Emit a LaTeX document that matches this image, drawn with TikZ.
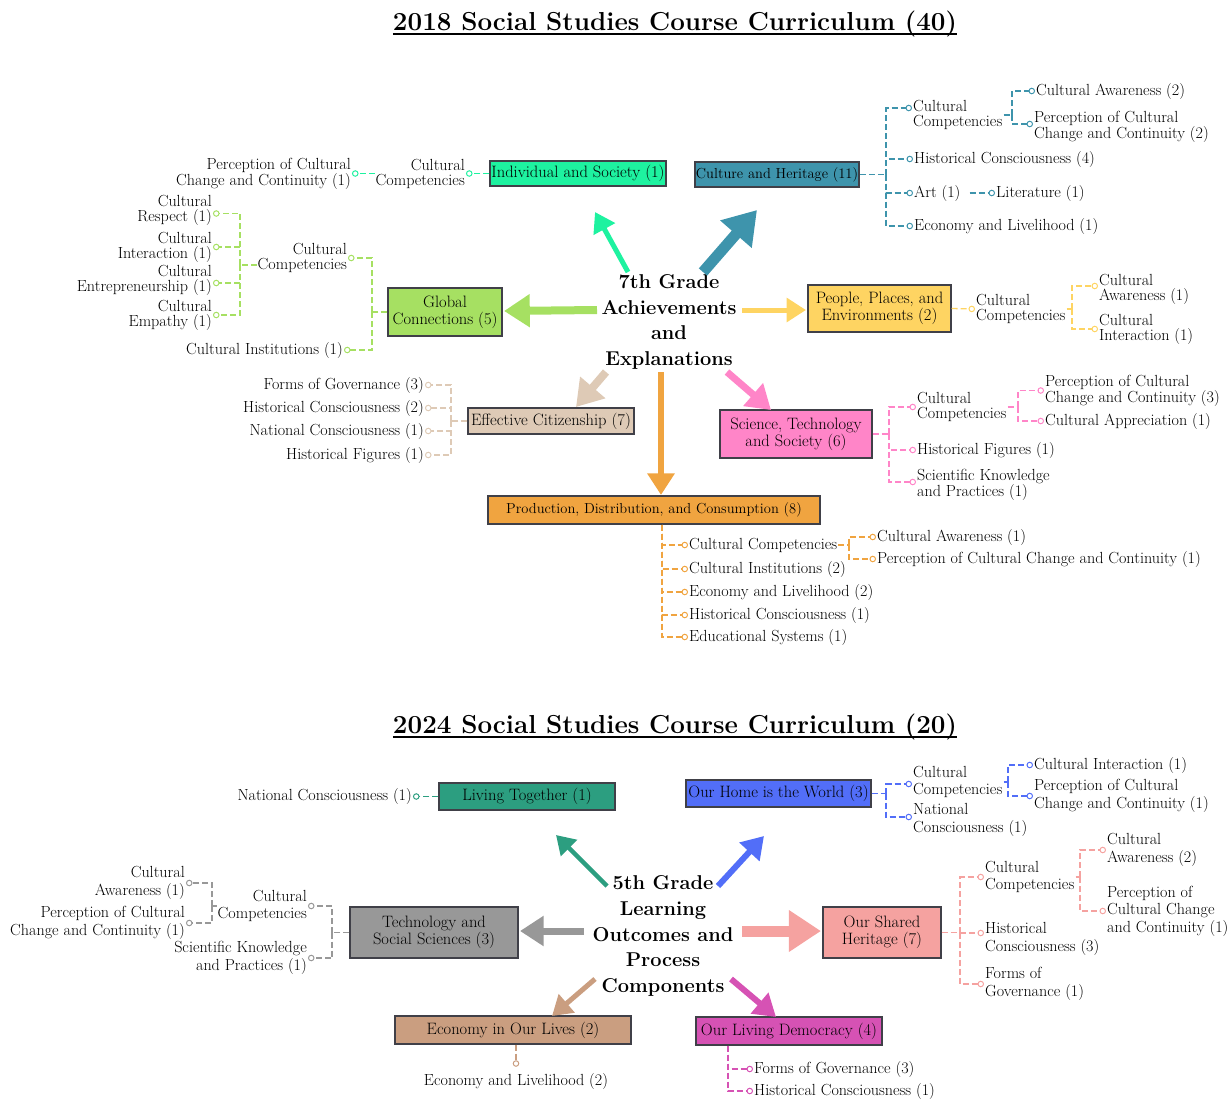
\documentclass[tikz,border=0pt]{standalone}
\usepackage{tikz}
\usetikzlibrary{arrows.meta}
\definecolor{indsoc}{RGB}{30,242,160}
\definecolor{culher}{RGB}{62,148,172}
\definecolor{globcon}{RGB}{166,224,98}
\definecolor{peoplace}{RGB}{254,212,98}
\definecolor{effcit}{RGB}{222,202,182}
\definecolor{scitech}{RGB}{255,133,200}
\definecolor{prodcon}{RGB}{240,164,64}
\definecolor{livtog}{RGB}{44,158,128}
\definecolor{ourhome}{RGB}{82,110,248}
\definecolor{techsoc}{RGB}{152,152,152}
\definecolor{shared}{RGB}{245,162,160}
\definecolor{economy}{RGB}{202,158,128}
\definecolor{democracy}{RGB}{214,82,180}
\definecolor{boxline}{RGB}{64,64,72}

\begin{document}
\begin{tikzpicture}[x=1pt,y=-1pt,
    box/.style={draw=boxline, line width=1.4pt, fill=#1, inner sep=1pt, align=center, font=\fontsize{16.5}{17}\selectfont},
    leaf/.style={inner sep=1pt, align=left, anchor=west, font=\fontsize{16.1}{15}\selectfont},
    leftleaf/.style={leaf, align=right, anchor=east},
    hub/.style={align=center, font=\fontsize{20}{25.7}\selectfont\bfseries},
    heading/.style={anchor=base, inner sep=0pt, font=\fontsize{26}{30}\selectfont\bfseries},
    trunk/.style={draw=#1, line width=1.3pt, dash pattern=on 6pt off 3pt},
    twig/.style={trunk=#1, -{Circle[open,length=6.5pt,width=6.5pt,line width=1pt]}},
    fat/.style 2 args={draw=#1, line width=#2, -{Triangle[length=9pt 2.1,width=10pt 2.7]}}]
\useasboundingbox (0,0) rectangle (1232,1101);

% ---------------- 2018 ----------------
\node[heading] (title18) at (675,30) {2018 Social Studies Course Curriculum (40)};
\draw[line width=1.3pt] ([yshift=-4pt]title18.base west) -- ([yshift=-4pt]title18.base east);
\node[hub] (grade7) at (669,322) {7th Grade\\Achievements\\and\\Explanations};

\node[box=indsoc, minimum width=176pt, minimum height=25pt] (indiv) at (578,173.5) {Individual and Society (1)};
\node[box=culher, minimum width=160pt, minimum height=25pt, font=\fontsize{14.5}{15}\selectfont] (heritage) at (777,174.5) {Culture and Heritage (11)};
\node[box=globcon, minimum width=114pt, minimum height=48pt] (global) at (445,312) {Global\\Connections (5)};
\node[box=peoplace, minimum width=143pt, minimum height=47pt] (people) at (879.5,308.5) {People, Places, and\\Environments (2)};
\node[box=effcit, minimum width=166pt, minimum height=26pt] (citizen) at (551,421) {Effective Citizenship (7)};
\node[box=scitech, minimum width=152pt, minimum height=48pt] (science) at (796,434) {Science, Technology\\and Society (6)};
\node[box=prodcon, minimum width=332pt, minimum height=28pt, font=\fontsize{14.5}{15}\selectfont] (product) at (654,510) {Production, Distribution, and Consumption (8)};

\draw[fat={indsoc}{5pt}] ([shift={(-41,-50)}]grade7.center) -- ([shift={(17,38.5)}]indiv.center);
\draw[fat={culher}{11pt}] ([shift={(34,-50)}]grade7.center) -- ([shift={(-20,35.5)}]heritage.center);
\draw[fat={globcon}{8pt}] ([shift={(-72,-12)}]grade7.center) -- ([shift={(59,-1)}]global.center);
\draw[fat={peoplace}{5pt}] ([shift={(73,-12)}]grade7.center) -- ([shift={(-73.5,1.5)}]people.center);
\draw[fat={effcit}{8pt}] ([shift={(-63,50)}]grade7.center) -- ([shift={(25,-14)}]citizen.center);
\draw[fat={prodcon}{6pt}] ([shift={(-8,50)}]grade7.center) -- ([shift={(7,-15)}]product.center);
\draw[fat={scitech}{7pt}] ([shift={(58,50)}]grade7.center) -- ([shift={(-25,-24)}]science.center);

% individual and society
\node[leftleaf] (indcc) at (466,173.5) {Cultural\\Competencies};
\node[leftleaf] (indpc) at (352,173.5) {Perception of Cultural\\Change and Continuity (1)};
\draw[twig=indsoc] (indiv.west) -- (indcc.east);
\draw[twig=indsoc] (indcc.west) -- (indpc.east);

% culture and heritage
\coordinate (herj) at (886,174.5);
\node[leaf] (hercc) at (912,115) {Cultural\\Competencies};
\node[leaf] (herhc) at (913,159) {Historical Consciousness (4)};
\node[leaf] (herart) at (913,193) {Art (1)};
\node[leaf] (herlit) at (995,193) {Literature (1)};
\node[leaf] (herel) at (913,226) {Economy and Livelihood (1)};
\draw[trunk=culher] (heritage.east) -- (herj);
\draw[twig=culher] (herj) |- ([yshift=7pt]hercc.west);
\foreach \n in {herhc,herart,herel}
    \draw[twig=culher] (herj) |- (\n.west);
\draw[twig=culher] ([xshift=8pt]herart.east) -- (herlit.west);
\coordinate (herccj) at (1012,115);
\node[leaf] (herca) at (1035,91) {Cultural Awareness (2)};
\node[leaf] (herpc) at (1033,127) {Perception of Cultural\\Change and Continuity (2)};
\draw[trunk=culher] (hercc.east) -- (herccj);
\draw[twig=culher] (herccj) |- (herca.west);
\draw[twig=culher] (herccj) |- ([yshift=3pt]herpc.west);

% global connections
\coordinate (globj) at (372,312);
\node[leftleaf] (globcc) at (348,258) {Cultural\\Competencies};
\node[leftleaf] (globci) at (344,350) {Cultural Institutions (1)};
\draw[trunk=globcon] (global.west) -- (globj);
\draw[twig=globcon] (globj) |- (globcc.east);
\draw[twig=globcon] (globj) |- (globci.east);
\coordinate (globccj) at (240,265);
\node[leftleaf] (globre) at (213,210.5) {Cultural\\Respect (1)};
\node[leftleaf] (globin) at (213,247) {Cultural\\Interaction (1)};
\node[leftleaf] (globen) at (213,280) {Cultural\\Entrepreneurship (1)};
\node[leftleaf] (globem) at (213,315) {Cultural\\Empathy (1)};
\draw[trunk=globcon] (globcc.west |- globccj) -- (globccj);
\draw[twig=globcon] (globccj) |- ([yshift=-3pt]globre.east);
\draw[twig=globcon] (globccj) |- (globin.east);
\draw[twig=globcon] (globccj) |- ([yshift=-3pt]globen.east);
\draw[twig=globcon] (globccj) |- (globem.east);

% people, places and environments
\node[leaf] (peocc) at (975,309) {Cultural\\Competencies};
\draw[twig=peoplace] (people.east) -- (peocc.west);
\coordinate (peoccj) at (1072,309);
\node[leaf] (peoca) at (1098,289) {Cultural\\Awareness (1)};
\node[leaf] (peoci) at (1098,329) {Cultural\\Interaction (1)};
\draw[trunk=peoplace] (peocc.east) -- (peoccj);
\draw[twig=peoplace] (peoccj) |- ([yshift=3pt]peoca.west);
\draw[twig=peoplace] (peoccj) |- (peoci.west);

% science, technology and society
\coordinate (scij) at (889,434);
\node[leaf] (scicc) at (916,407) {Cultural\\Competencies};
\node[leaf] (scihf) at (916,450) {Historical Figures (1)};
\node[leaf] (scisk) at (916,485) {Scientific Knowledge\\and Practices (1)};
\draw[trunk=scitech] (science.east) -- (scij);
\draw[twig=scitech] (scij) |- (scicc.west);
\draw[twig=scitech] (scij) |- (scihf.west);
\draw[twig=scitech] (scij) |- ([yshift=3pt]scisk.west);
\coordinate (sciccj) at (1018,407);
\node[leaf] (scipc) at (1044,390.5) {Perception of Cultural\\Change and Continuity (3)};
\node[leaf] (scica) at (1044,421) {Cultural Appreciation (1)};
\draw[trunk=scitech] (scicc.east) -- (sciccj);
\draw[twig=scitech] (sciccj) |- (scipc.west);
\draw[twig=scitech] (sciccj) |- (scica.west);

% effective citizenship
\coordinate (citj) at (451,421);
\node[leftleaf] (citfg) at (425,385) {Forms of Governance (3)};
\node[leftleaf] (cithc) at (425,408) {Historical Consciousness (2)};
\node[leftleaf] (citnc) at (425,431) {National Consciousness (1)};
\node[leftleaf] (cithf) at (425,455) {Historical Figures (1)};
\draw[trunk=effcit] (citizen.west) -- (citj);
\foreach \n in {citfg,cithc,citnc,cithf}
    \draw[twig=effcit] (citj) |- (\n.east);

% production, distribution and consumption
\coordinate (prodj) at ([xshift=8pt]product.south);
\node[leaf] (prodcc) at (688,545) {Cultural Competencies};
\node[leaf] (prodci) at (688,569) {Cultural Institutions (2)};
\node[leaf] (prodel) at (688,592) {Economy and Livelihood (2)};
\node[leaf] (prodhc) at (688,615) {Historical Consciousness (1)};
\node[leaf] (prodes) at (688,637) {Educational Systems (1)};
\foreach \n in {prodcc,prodci,prodel,prodhc,prodes}
    \draw[twig=prodcon] (prodj) |- (\n.west);
\coordinate (prodccj) at (849,545);
\node[leaf] (prodca) at (876,537) {Cultural Awareness (1)};
\node[leaf] (prodpc) at (876,559) {Perception of Cultural Change and Continuity (1)};
\draw[trunk=prodcon] (prodcc.east) -- (prodccj);
\draw[twig=prodcon] (prodccj) |- (prodca.west);
\draw[twig=prodcon] (prodccj) |- (prodpc.west);

% ---------------- 2024 ----------------
\begin{scope}[leaf/.append style={font=\fontsize{16.1}{17.5}\selectfont}]
\node[heading] (title24) at (675,733) {2024 Social Studies Course Curriculum (20)};
\draw[line width=1.3pt] ([yshift=-4pt]title24.base west) -- ([yshift=-4pt]title24.base east);
\node[hub] (grade5) at (663,936) {5th Grade\\Learning\\Outcomes and\\Process\\Components};

\node[box=livtog, minimum width=176pt, minimum height=27pt] (living) at (527,796.5) {Living Together (1)};
\node[box=ourhome, minimum width=185pt, minimum height=27pt] (home) at (778.5,793.5) {Our Home is the World (3)};
\node[box=techsoc, minimum width=168pt, minimum height=51pt] (techsci) at (434,932.5) {Technology and\\Social Sciences (3)};
\node[box=shared, minimum width=118pt, minimum height=51pt] (sharedh) at (882,932.5) {Our Shared\\Heritage (7)};
\node[box=economy, minimum width=236pt, minimum height=28pt] (econ) at (513,1030) {Economy in Our Lives (2)};
\node[box=democracy, minimum width=186pt, minimum height=28pt] (demo) at (789,1031) {Our Living Democracy (4)};

\draw[fat={livtog}{4.5pt}] ([shift={(-56,-50)}]grade5.center) -- ([shift={(29,38.5)}]living.center);
\draw[fat={ourhome}{6pt}] ([shift={(55,-50)}]grade5.center) -- ([shift={(-14.5,42.5)}]home.center);
\draw[fat={techsoc}{7pt}] ([shift={(-79,-5)}]grade5.center) -- ([shift={(86,-1.5)}]techsci.center);
\draw[fat={shared}{11pt}] ([shift={(79,-5)}]grade5.center) -- ([shift={(-61,-1.5)}]sharedh.center);
\draw[fat={economy}{5pt}] ([shift={(-68,43)}]grade5.center) -- ([shift={(39,-14)}]econ.center);
\draw[fat={democracy}{6pt}] ([shift={(68,43)}]grade5.center) -- ([shift={(-13,-14)}]demo.center);

% living together
\node[leftleaf] (livnc) at (413,796.5) {National Consciousness (1)};
\draw[twig=livtog] (living.west) -- (livnc.east);

% our home is the world
\coordinate (homej) at (886,793.5);
\node[leaf] (homecc) at (912,782) {Cultural\\Competencies};
\node[leaf] (homenc) at (912,820) {National\\Consciousness (1)};
\draw[trunk=ourhome] (home.east) -- (homej);
\draw[twig=ourhome] (homej) |- ([yshift=-2pt]homecc.west);
\draw[twig=ourhome] (homej) |- ([yshift=3pt]homenc.west);
\coordinate (homeccj) at (1008,782);
\node[leaf] (homeci) at (1033,765) {Cultural Interaction (1)};
\node[leaf] (homepc) at (1033,796) {Perception of Cultural\\Change and Continuity (1)};
\draw[trunk=ourhome] (homecc.east) -- (homeccj);
\draw[twig=ourhome] (homeccj) |- (homeci.west);
\draw[twig=ourhome] (homeccj) |- (homepc.west);

% our shared heritage
\coordinate (sharj) at (960,932.5);
\node[leaf] (sharcc) at (984,877) {Cultural\\Competencies};
\node[leaf] (sharhc) at (984,939) {Historical\\Consciousness (3)};
\node[leaf] (sharfg) at (984,984) {Forms of\\Governance (1)};
\draw[trunk=shared] (sharedh.east) -- (sharj);
\draw[twig=shared] (sharj) |- (sharcc.west);
\draw[twig=shared] (sharj) |- ([yshift=6pt]sharhc.west);
\draw[twig=shared] (sharj) |- (sharfg.west);
\coordinate (sharccj) at (1080,877);
\node[leaf] (sharca) at (1106,850) {Cultural\\Awareness (2)};
\node[leaf] (sharpc) at (1106,911) {Perception of\\Cultural Change\\and Continuity (1)};
\draw[trunk=shared] (sharcc.east) -- (sharccj);
\draw[twig=shared] (sharccj) |- (sharca.west);
\draw[twig=shared] (sharccj) |- (sharpc.west);

% technology and social sciences
\coordinate (techj) at (332,932.5);
\node[leftleaf] (techcc) at (308,906) {Cultural\\Competencies};
\node[leftleaf] (techsk) at (308,958) {Scientific Knowledge\\and Practices (1)};
\draw[trunk=techsoc] (techsci.west) -- (techj);
\draw[twig=techsoc] (techj) |- (techcc.east);
\draw[twig=techsoc] (techj) |- (techsk.east);
\coordinate (techccj) at (212,906);
\node[leftleaf] (techca) at (186,883) {Cultural\\Awareness (1)};
\node[leftleaf] (techpc) at (186,923) {Perception of Cultural\\Change and Continuity (1)};
\draw[trunk=techsoc] (techcc.west) -- (techccj);
\draw[twig=techsoc] (techccj) |- (techca.east);
\draw[twig=techsoc] (techccj) |- (techpc.east);

% economy in our lives
\node[leaf, anchor=center, align=center] (econel) at (516,1081) {Economy and Livelihood (2)};
\draw[twig=economy] (econ.south -| econel.north) -- ([yshift=5pt]econel.north);

% our living democracy
\coordinate (demoj) at ([xshift=-61pt]demo.south);
\node[leaf] (demofg) at (753,1069) {Forms of Governance (3)};
\node[leaf] (demohc) at (753,1091) {Historical Consciousness (1)};
\foreach \n in {demofg,demohc}
    \draw[twig=democracy] (demoj) |- (\n.west);
\end{scope}
\end{tikzpicture}
\end{document}
